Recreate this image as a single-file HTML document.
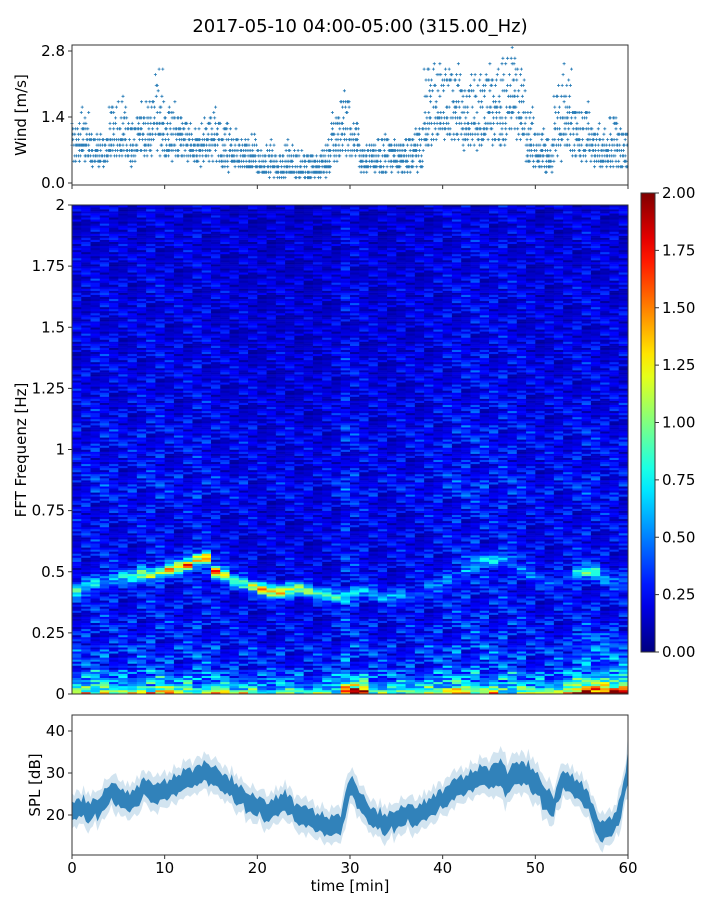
<!DOCTYPE html>
<html><head><meta charset="utf-8"><style>
html,body{margin:0;padding:0;background:#fff;}
svg{display:block;font-family:"DejaVu Sans","Liberation Sans",sans-serif;}
</style></head><body>
<svg id="fig" width="720" height="900" viewBox="0 0 720 900">
<text x="360" y="32" text-anchor="middle" font-size="18" fill="#000">2017-05-10 04:00-05:00 (315.00_Hz)</text>
<g id="wind"></g>
<g id="spec"></g>
<g id="cbar"></g>
<g id="spl"></g>
<text x="26" y="115" transform="rotate(-90 26 115)" text-anchor="middle" font-size="15">Wind [m/s]</text>
<text x="26" y="450" transform="rotate(-90 26 450)" text-anchor="middle" font-size="15">FFT Frequenz [Hz]</text>
<text x="40" y="785" transform="rotate(-90 40 785)" text-anchor="middle" font-size="15">SPL [dB]</text>
<text x="350" y="891" text-anchor="middle" font-size="15">time [min]</text>
</svg>
<script>
// ---- data ----
const xTicks = [0,10,20,30,40,50,60];
const windTicks = [0.0,1.4,2.8];
const windLo = [0.2,0.2,0.2,0.3,0.3,0.3,0.2,0.4,0.3,0.3,0.2,0.3,0.3,0.2,0.2,0.2,0.1,0.1,0.2,0.1,0.1,0.0,0.0,0.0,0.0,0.0,0.0,0.0,0.2,0.4,0.3,0.1,0.1,0.0,0.1,0.0,0.0,0.0,0.5,0.6,0.6,0.6,0.5,0.5,0.5,0.5,0.5,0.8,0.6,0.2,0.1,0.1,0.2,0.4,0.3,0.2,0.2,0.1,0.1,0.2];
const windHi = [1.3,1.5,1.0,1.0,1.7,1.8,1.2,1.5,1.8,2.5,1.5,1.5,1.3,1.0,1.3,1.4,1.3,1.0,0.9,1.0,0.7,0.8,0.6,0.8,0.7,0.6,0.6,0.8,1.4,1.9,1.3,0.8,0.8,1.0,0.9,0.9,1.0,1.2,2.5,2.5,2.4,2.5,2.0,2.3,2.3,2.4,2.6,2.8,2.4,1.5,1.1,0.9,2.0,2.3,1.6,1.6,1.2,1.0,1.4,1.1];
const windMid = [0.6,0.7,0.5,0.5,0.7,0.8,0.6,0.9,0.9,1.0,0.8,0.8,0.7,0.6,0.7,0.7,0.5,0.5,0.5,0.4,0.3,0.3,0.2,0.3,0.2,0.2,0.2,0.3,0.7,0.9,0.7,0.4,0.4,0.4,0.5,0.4,0.4,0.5,1.0,1.2,1.2,1.2,1.0,1.0,1.1,1.2,1.1,1.5,1.2,0.6,0.5,0.4,0.9,1.0,0.8,0.7,0.6,0.5,0.6,0.5];
const freqTicks = [0,0.25,0.5,0.75,1,1.25,1.5,1.75,2];
const freqLabels = ["0","0.25","0.5","0.75","1","1.25","1.5","1.75","2"];
const baseByFreq = [0.36,0.30,0.25,0.23,0.22,0.22,0.21,0.21,0.24,0.21,0.22,0.20,0.19,0.19,0.18,0.18,0.18,0.17,0.17,0.16,0.16];
const colLevel = [1.0,1.05,1.1,1.1,1.05,1.0,1.0,1.05,1.1,1.1,1.0,1.0,1.05,1.1,1.05,1.0,0.95,0.9,0.95,0.9,0.85,0.85,0.9,0.9,0.85,0.85,0.85,0.9,0.95,1.2,1.1,1.0,0.95,0.9,0.9,0.95,0.95,0.95,1.0,1.05,1.1,1.15,1.15,1.2,1.15,1.1,1.15,1.1,1.05,1.0,0.95,0.95,1.0,1.0,1.05,1.1,1.05,1.0,1.0,1.0];
const ridgeFreq = [0.42,0.45,0.45,0.46,0.47,0.48,0.48,0.49,0.49,0.50,0.51,0.52,0.53,0.55,0.56,0.50,0.49,0.46,0.45,0.44,0.43,0.42,0.42,0.43,0.43,0.42,0.41,0.41,0.40,0.40,0.42,0.42,0.41,0.40,0.40,0.40,0.40,0.41,0.44,0.45,0.46,0.47,0.50,0.54,0.55,0.55,0.55,0.54,0.50,0.48,0.46,0.45,0.46,0.48,0.50,0.50,0.50,0.48,0.46,0.45];
const ridgeAmp = [0.9,0.6,0.6,0.5,0.6,0.6,0.7,1.2,1.2,1.1,1.3,1.4,1.6,1.5,1.5,1.7,1.4,1.0,0.9,1.1,1.3,1.6,1.6,1.3,1.2,0.9,0.8,0.8,0.8,0.8,0.6,0.5,0.4,0.4,0.5,0.4,0.4,0.3,0.3,0.3,0.3,0.3,0.4,0.5,0.5,0.5,0.5,0.4,0.3,0.3,0.2,0.2,0.2,0.3,0.7,0.8,0.8,0.5,0.3,0.3];
const lowAmp = [1.0,1.3,1.1,1.2,0.9,1.0,1.1,1.3,1.2,1.1,1.3,1.1,1.2,1.0,1.1,1.2,1.1,1.0,1.2,0.9,0.9,0.8,1.0,0.9,0.9,0.8,0.9,1.0,0.8,2.0,2.0,2.0,1.2,1.0,0.9,0.9,1.0,1.0,1.1,1.2,1.3,1.3,1.1,1.2,1.0,1.1,1.0,0.9,1.0,1.0,1.1,1.2,1.1,1.4,1.6,1.8,2.0,2.0,2.0,2.0];
const rowNoise = [1.0,0.6,1.3,0.8,0.5,1.2,0.9,1.5,0.7,1.1,0.4,1.3,0.9,0.6,1.4,1.0,0.8,0.5,1.2,1.6,0.7,0.9,1.1,0.5,1.3,0.8,1.0,0.6,1.4,0.9,1.2,0.7,0.5,1.1,1.3,0.8,1.0,1.5,0.6,0.9,1.2,0.7,1.0,0.4,1.3,1.1,0.8,0.6,1.4,0.9,1.0,1.2,0.5,0.8,1.3,1.0,0.7,1.1,0.9,1.5,0.6,1.0,1.2,0.8];
const cbarTicks = [0,0.25,0.5,0.75,1.0,1.25,1.5,1.75,2.0];
const splTicks = [20,30,40];
const splMid = [21,22,21,22,25,25,23,24,27,25,26,27,28,29,30,30,28,27,25,23,22,21,22,23,21,20,19,18,17,18,27,24,20,19,18,19,20,20,21,22,24,26,27,28,29,29,30,28,30,30,28,24,22,29,27,25,22,16,17,20,31];
const splSpread = [2.5,2.5,2.5,2.5,2.5,2.5,2.5,2.5,2.5,2.5,2.5,2.5,2.5,2.5,2.5,2.5,2.5,2.5,2.5,2.5,2.5,2.5,2.5,2.5,2.5,2.5,2.5,2.5,2.5,3,2.5,2.5,2.5,2.5,2.5,2.5,2.5,2.5,2.5,2.5,2.5,2.5,2.5,2.5,2.5,3,3.5,3,3,3,3,3,2.5,2.5,2.5,2.5,2.5,2.5,2.5,3,4];

// ---- helpers ----
const NS = "http://www.w3.org/2000/svg";
function mk(tag, attrs, parent){const e=document.createElementNS(NS,tag);for(const k in attrs)e.setAttribute(k,attrs[k]);parent.appendChild(e);return e;}
const X0=72, X1=628;
const xS = t => X0 + t/60*(X1-X0);
const yW = v => 183 - v/1.4*66;
const SY0=205, SY1=694;
const yF = f => SY1 - f/2*(SY1-SY0);
const yS = d => 731 + (40-d)*4.2;
const CB0=193, CB1=652;
const yC = v => CB1 - v/2*(CB1-CB0);
function clamp(v){return Math.max(0,Math.min(1,v));}
function jet(v){v=clamp(v/2);const r=clamp(1.5-Math.abs(4*v-3)),g=clamp(1.5-Math.abs(4*v-2)),b=clamp(1.5-Math.abs(4*v-1));return `rgb(${Math.round(r*255)},${Math.round(g*255)},${Math.round(b*255)})`;}
function frame(g,x0,y0,x1,y1,name){const r=mk('rect',{x:x0,y:y0,width:x1-x0,height:y1-y0,fill:'none',stroke:'#333','stroke-width':1},g);}

// ---- wind panel ----
const wg=document.getElementById('wind');
let pd='';
for(let m=0;m<60;m++){
  for(let k=0;k<10;k++){
    const t=m+k/10;
    const x=xS(t);
    const lo=windLo[m], hi=windHi[m], mid=windMid[m];
    const n = 3 + ((m*3+k)%3);
    for(let j=0;j<n;j++){
      const frac = rowNoise[(m*11+k*5+j*7)%64];
      let v = j===0? hi*(0.85+0.15*frac/1.6) : lo + (mid-lo)*frac*1.1 + (j%2? (hi-mid)*0.5*frac*(k%2):0);
      if(j===0 && k%4!==0) v = mid + (hi-mid)*frac/1.6;
      v = Math.round(v/0.115)*0.115;
      const y=yW(v);
      pd+=`M${(x-1.5).toFixed(1)} ${y.toFixed(1)}h3M${x.toFixed(1)} ${(y-1.5).toFixed(1)}v3`;
    }
  }
}
const wp=mk('path',{d:pd,stroke:'#1f77b4','stroke-width':0.8,fill:'none'},wg);


frame(wg,X0,45,X1,185,'wind-plot-frame');
windTicks.forEach(v=>{
  const y=yW(v);
  const l=mk('line',{x1:X0-4,x2:X0,y1:y,y2:y,stroke:'#333'},wg);
  const t=mk('text',{x:X0-7,y:y+5,'text-anchor':'end','font-size':15},wg);t.textContent=v.toFixed(1);
  
});
xTicks.forEach(v=>{
  const x=xS(v);
  const l=mk('line',{x1:x,x2:x,y1:185,y2:189,stroke:'#333'},wg);
});

// ---- spectrogram ----
const sg=document.getElementById('spec');
const NR=240;
const rowH=(SY1-SY0)/NR;
for(let c=0;c<60;c++){
  for(let r=0;r<NR;r++){
    const f=(r+0.5)/NR*2;
    const bi=Math.min(20,Math.floor(f/0.1));
    const nz=rowNoise[(r*7+c*3)%64];
    let v=baseByFreq[bi]*colLevel[c]*Math.pow(nz,1.4)*1.1;
    const d=(f-ridgeFreq[c])/0.025;
    v+=ridgeAmp[c]*Math.exp(-d*d)*(0.3+0.7*rowNoise[(r*5+c)%64]/1.5);
    if(f<0.1) v+= (lowAmp[c]-0.5)*1.4*Math.exp(-f/0.025)*rowNoise[(r*3+c*5)%64] + 0.12*rowNoise[(r+c*7)%64]*(0.1-f)/0.1*lowAmp[c];
    if(f<0.25 && c>53) v+=0.12*rowNoise[(r*9+c)%64];
    const e=mk('rect',{x:xS(c).toFixed(2),y:(SY1-(r+1)*rowH).toFixed(2),width:(xS(c+1)-xS(c)+0.4).toFixed(2),height:(rowH+0.3).toFixed(2),fill:jet(v)},sg);
    
    
  }
}
frame(sg,X0,SY0,X1,SY1,'spectrogram-frame');
freqTicks.forEach((v,i)=>{
  const y=yF(v);
  const l=mk('line',{x1:X0-4,x2:X0,y1:y,y2:y,stroke:'#333'},sg);
  const t=mk('text',{x:X0-7,y:y+5,'text-anchor':'end','font-size':15},sg);t.textContent=freqLabels[i];
  
});

// ---- colorbar ----
const cg=document.getElementById('cbar');
const defs=mk('defs',{},cg);
const grad=mk('linearGradient',{id:'jetg',x1:0,y1:1,x2:0,y2:0},defs);
for(let i=0;i<=20;i++){mk('stop',{offset:(i/20),'stop-color':jet(i/10)},grad);}
const cr=mk('rect',{x:641,y:CB0,width:14,height:CB1-CB0,fill:'url(#jetg)',stroke:'#333','stroke-width':1},cg);

cbarTicks.forEach(v=>{
  const y=yC(v);
  const l=mk('line',{x1:655,x2:659,y1:y,y2:y,stroke:'#333'},cg);
  const t=mk('text',{x:662,y:y+5,'font-size':15},cg);t.textContent=v.toFixed(2);
  
});

// ---- SPL ----
const pg=document.getElementById('spl');
function band(mult,op,name){
  const pts=[];
  for(let i=0;i<splMid.length;i++){
    for(let k=0;k<4;k++){
      if(i===splMid.length-1 && k>0) break;
      const t=i+k/4;
      const nxt=splMid[Math.min(i+1,splMid.length-1)];
      const m=splMid[i]+(nxt-splMid[i])*k/4 + (rowNoise[(i*4+k*3)%64]-1)*1.5;
      const s=splSpread[i]*mult*(0.6+0.4*rowNoise[(i*4+k)%64]);
      pts.push([xS(t),yS(m+s),yS(m-s)]);
    }
  }
  const up=pts.map((p,j)=>(j?'L':'M')+p[0].toFixed(1)+' '+p[1].toFixed(1)).join('');
  const dn=pts.slice().reverse().map(p=>'L'+p[0].toFixed(1)+' '+p[2].toFixed(1)).join('');
  const e=mk('path',{d:up+dn+'Z',fill:'#1f77b4','fill-opacity':op},pg);
  
}
band(1.7,0.2,'spl-outer-band');
band(0.9,0.9,'spl-inner-band');
frame(pg,X0,715,X1,855,'spl-frame');
splTicks.forEach(v=>{
  const y=yS(v);
  const l=mk('line',{x1:X0-4,x2:X0,y1:y,y2:y,stroke:'#333'},pg);
  const t=mk('text',{x:X0-7,y:y+5,'text-anchor':'end','font-size':15},pg);t.textContent=v;
  
});
xTicks.forEach(v=>{
  const x=xS(v);
  const l=mk('line',{x1:x,x2:x,y1:855,y2:859,stroke:'#333'},pg);
  const t=mk('text',{x:x,y:873,'text-anchor':'middle','font-size':15},pg);t.textContent=v;
  
});
</script>
</body></html>
